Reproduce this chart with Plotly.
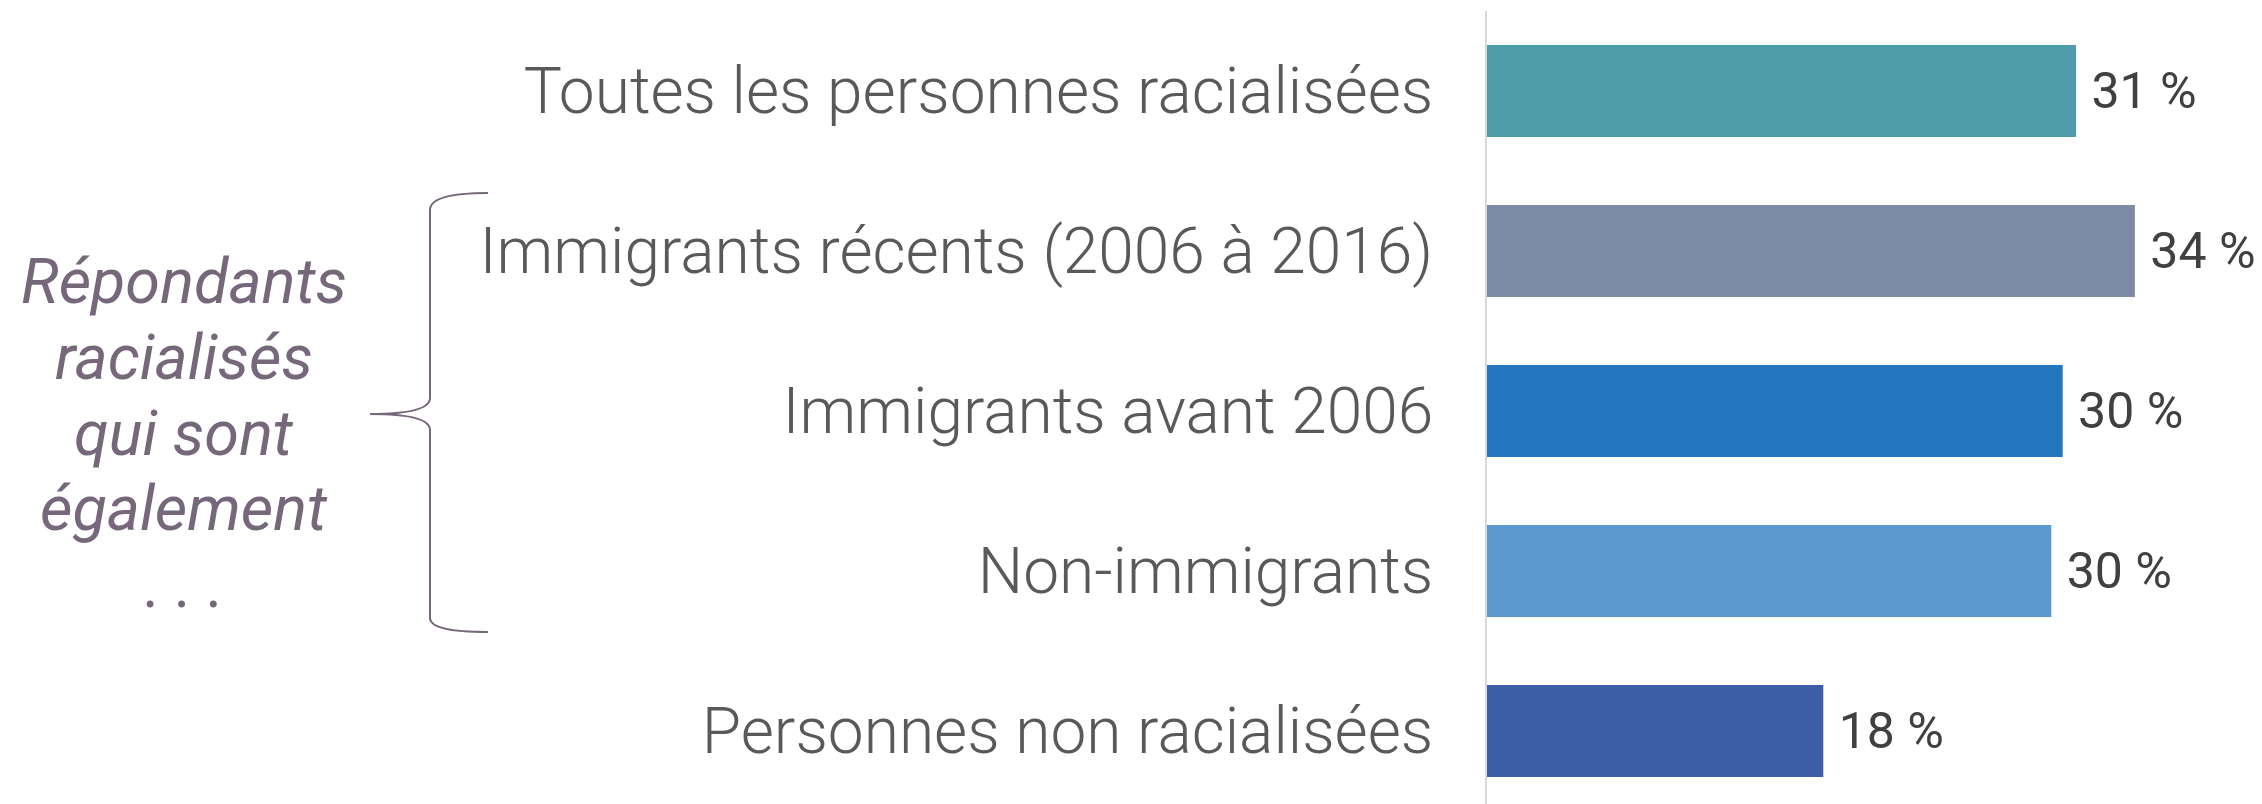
import plotly.graph_objects as go

categories = [
    "Toutes les personnes racialisées",
    "Immigrants récents (2006 à 2016)",
    "Immigrants avant 2006",
    "Non-immigrants",
    "Personnes non racialisées",
]
values = [31.0, 34.1, 30.3, 29.7, 17.7]
value_labels = ["31 %", "34 %", "30 %", "30 %", "18 %"]
bar_colors = ["#4f9dab", "#7a8ba3", "#2377be", "#5b99ce", "#3e5ea7"]

side_note = ["Répondants", "racialisés", "qui sont", "également", ". . ."]

# the page body adds an 8px margin, so the figure is drawn 8px smaller
OFF = 8
W, H = 2262 - OFF, 804 - OFF
M_L, M_R, M_T, M_B = 1487 - OFF, 0, 11 - OFF, 0
PW, PH = W - M_L - M_R, H - M_T - M_B


def px(x, y):
    # page pixel position -> paper coordinates
    return (x - OFF - M_L) / PW, (H - M_B - (y - OFF)) / PH


fig = go.Figure()

fig.add_trace(go.Bar(
    x=values,
    y=categories,
    orientation="h",
    marker=dict(color=bar_colors, line=dict(width=0)),
    text=[" " + t for t in value_labels],
    textposition="outside",
    textfont=dict(family="Roboto", size=50, color="#404040"),
    cliponaxis=False,
    hoverinfo="skip",
))

# curly brace grouping the three sub-categories
pts = [
    (488, 193), (430, 193), (430, 210), (430, 398), (430, 414), (370, 414),
    (430, 414), (430, 430), (430, 618), (430, 632), (488, 632),
]
p = [px(*q) for q in pts]
path = (
    f"M {p[0][0]},{p[0][1]} Q {p[1][0]},{p[1][1]} {p[2][0]},{p[2][1]} "
    f"L {p[3][0]},{p[3][1]} Q {p[4][0]},{p[4][1]} {p[5][0]},{p[5][1]} "
    f"Q {p[6][0]},{p[6][1]} {p[7][0]},{p[7][1]} "
    f"L {p[8][0]},{p[8][1]} Q {p[9][0]},{p[9][1]} {p[10][0]},{p[10][1]}"
)
fig.add_shape(type="path", path=path, xref="paper", yref="paper",
              line=dict(color="#76677b", width=2))

# italic side note, one line at a time for tighter spacing
for i, line in enumerate(side_note):
    ax, ay = px(184, 281 + 76 * i)
    fig.add_annotation(
        x=ax, y=ay, xref="paper", yref="paper",
        text=line,
        showarrow=False, xanchor="center", yanchor="middle",
        font=dict(family="Roboto", size=63, color="#76677b", style="italic"),
    )

fig.update_layout(
    width=W,
    height=H,
    margin=dict(l=M_L, r=M_R, t=M_T, b=M_B),
    plot_bgcolor="white",
    paper_bgcolor="white",
    showlegend=False,
    bargap=0.425,
    xaxis=dict(range=[0, PW / 19.0], visible=False, fixedrange=True),
    yaxis=dict(
        categoryorder="array",
        categoryarray=categories,
        range=[(PH / 160.0) - 0.5, -0.5],
        showline=True,
        linecolor="#d9d9d9",
        linewidth=2,
        showgrid=False,
        ticks="",
        ticklabelstandoff=39,
        tickfont=dict(family="Roboto", size=64, color="#595959", weight=300),
    ),
)

fig.write_html("out.html")
